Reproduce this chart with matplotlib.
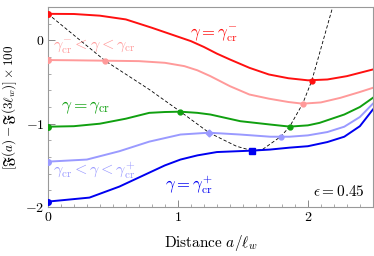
import matplotlib
matplotlib.use("Agg")
import matplotlib.pyplot as plt

plt.rcParams['mathtext.fontset'] = 'cm'
plt.rcParams['font.family'] = 'serif'
plt.rcParams['font.serif'] = ['cmr10', 'DejaVu Serif']
plt.rcParams['axes.unicode_minus'] = False

# curves
x_red = [0, 0.2, 0.4, 0.6, 0.8, 0.95, 1.1, 1.2, 1.3, 1.4, 1.55, 1.7, 1.85, 2.0, 2.15, 2.3, 2.4, 2.5]
y_red = [0.317, 0.315, 0.295, 0.25, 0.15, 0.07, -0.01, -0.08, -0.16, -0.23, -0.33, -0.41, -0.455, -0.48, -0.47, -0.43, -0.39, -0.35]

x_lred = [0, 0.2, 0.45, 0.7, 0.9, 1.05, 1.15, 1.25, 1.4, 1.55, 1.7, 1.85, 1.96, 2.1, 2.25, 2.4, 2.5]
y_lred = [-0.237, -0.24, -0.245, -0.25, -0.27, -0.31, -0.36, -0.43, -0.55, -0.65, -0.70, -0.74, -0.76, -0.745, -0.69, -0.62, -0.57]

x_green = [0, 0.2, 0.4, 0.6, 0.78, 0.9, 1.02, 1.15, 1.25, 1.48, 1.71, 1.86, 2.0, 2.09, 2.28, 2.4, 2.5]
y_green = [-1.036, -1.03, -1.0, -0.94, -0.87, -0.86, -0.856, -0.87, -0.89, -0.97, -1.01, -1.035, -1.02, -0.99, -0.89, -0.80, -0.69]

x_lblue = [0, 0.3, 0.55, 0.78, 1.02, 1.24, 1.48, 1.71, 1.86, 2.0, 2.15, 2.28, 2.4, 2.5]
y_lblue = [-1.455, -1.43, -1.33, -1.215, -1.13, -1.108, -1.13, -1.156, -1.156, -1.14, -1.10, -1.036, -0.92, -0.76]

x_blue = [0, 0.32, 0.55, 0.78, 0.9, 1.02, 1.15, 1.3, 1.57, 1.71, 1.86, 2.0, 2.15, 2.28, 2.4, 2.5]
y_blue = [-1.934, -1.886, -1.754, -1.587, -1.5, -1.43, -1.38, -1.34, -1.323, -1.31, -1.287, -1.27, -1.22, -1.156, -1.03, -0.83]

# locus of the stationary points (dashed)
x_loc_l = [0, 0.44, 0.78, 1.02, 1.24, 1.45, 1.57]
y_loc_l = [0.317, -0.245, -0.59, -0.856, -1.108, -1.27, -1.323]
x_loc_r = [1.57, 1.65, 1.79, 1.86, 1.96, 2.03, 2.1, 2.2]
y_loc_r = [-1.323, -1.31, -1.156, -1.035, -0.76, -0.485, -0.1, 0.45]

# marked points on the locus
mk_x = [0.44, 1.02, 1.24, 1.57, 1.79, 1.86, 1.96, 2.03]
mk_y = [-0.245, -0.856, -1.108, -1.323, -1.156, -1.035, -0.76, -0.485]

c_red, c_lred, c_green, c_lblue, c_blue = '#ff1010', '#ff9a9a', '#10a010', '#9a9aff', '#0000f0'
mk_c = [c_lred, c_green, c_lblue, c_blue, c_lblue, c_green, c_lred, c_red]
mk_m = ['o', 'o', 'D', 's', 'o', 'o', 'o', 'o']

fig = plt.figure(figsize=(3.74, 2.56), dpi=100)
ax = fig.add_axes([0.128, 0.191, 0.869, 0.782])

ax.plot(x_loc_l, y_loc_l, color='k', lw=0.6, dashes=(4, 2.5), zorder=1)
ax.plot(x_loc_r, y_loc_r, color='k', lw=0.6, dashes=(4, 2.5), zorder=1)

for xs, ys, c in [(x_red, y_red, c_red), (x_lred, y_lred, c_lred), (x_green, y_green, c_green),
                  (x_lblue, y_lblue, c_lblue), (x_blue, y_blue, c_blue)]:
    ax.plot(xs, ys, color=c, lw=1.4, zorder=2)
    ax.plot(xs[0], ys[0], 'o', color=c, ms=4, zorder=3)

for x, y, c, m in zip(mk_x, mk_y, mk_c, mk_m):
    ax.plot(x, y, m, color=c, ms=3.5 if m != 's' else 4, zorder=4)

ax.text(1.09, 0.066, r'$\gamma=\gamma_{\mathrm{cr}}^{-}$', color=c_red, fontsize=12, va='center')
ax.text(0.04, -0.08, r'$\gamma_{\mathrm{cr}}^{-}<\gamma<\gamma_{\mathrm{cr}}$', color=c_lred, fontsize=11.5, va='center')
ax.text(0.1, -0.81, r'$\gamma=\gamma_{\mathrm{cr}}$', color=c_green, fontsize=12.5, va='center')
ax.text(0.04, -1.56, r'$\gamma_{\mathrm{cr}}<\gamma<\gamma_{\mathrm{cr}}^{+}$', color=c_lblue, fontsize=11.5, va='center')
ax.text(0.9, -1.73, r'$\gamma=\gamma_{\mathrm{cr}}^{+}$', color=c_blue, fontsize=12, va='center')
ax.text(2.44, -1.81, r'$\epsilon=0.45$', color='k', fontsize=11, ha='right', va='center')

ax.set_xlim(0, 2.5)
ax.set_ylim(-2, 0.4)
ax.set_xticks([0, 1, 2])
ax.set_xticklabels(['$0$', '$1$', '$2$'])
ax.set_yticks([-2, -1, 0])
ax.set_yticklabels(['$-2$', '$-1$', '$0$'])
ax.set_xticks([i * 0.1 for i in range(26)], minor=True)
ax.set_yticks([-2 + i * 0.2 for i in range(13)], minor=True)
ax.tick_params(which='both', direction='in', color='#888888', labelsize=10, pad=2.5)
ax.tick_params(which='major', length=5, width=0.7)
ax.tick_params(which='minor', length=2.5, width=0.5)
for s in ax.spines.values():
    s.set_color('#999999')
    s.set_linewidth(0.8)

ax.set_xlabel(r'$\mathrm{Distance}\ a/\ell_w$', fontsize=11)
ax.xaxis.set_label_coords(0.5, -0.18)
ax.xaxis.label.set_va('center')
ax.set_ylabel(r'$[\mathfrak{F}(a)-\mathfrak{F}(3\ell_w)]\times100$', fontsize=9.5)
ax.yaxis.set_label_coords(-0.117, 0.5)
ax.yaxis.label.set_va('center')

fig.savefig('out.png', dpi=100)
